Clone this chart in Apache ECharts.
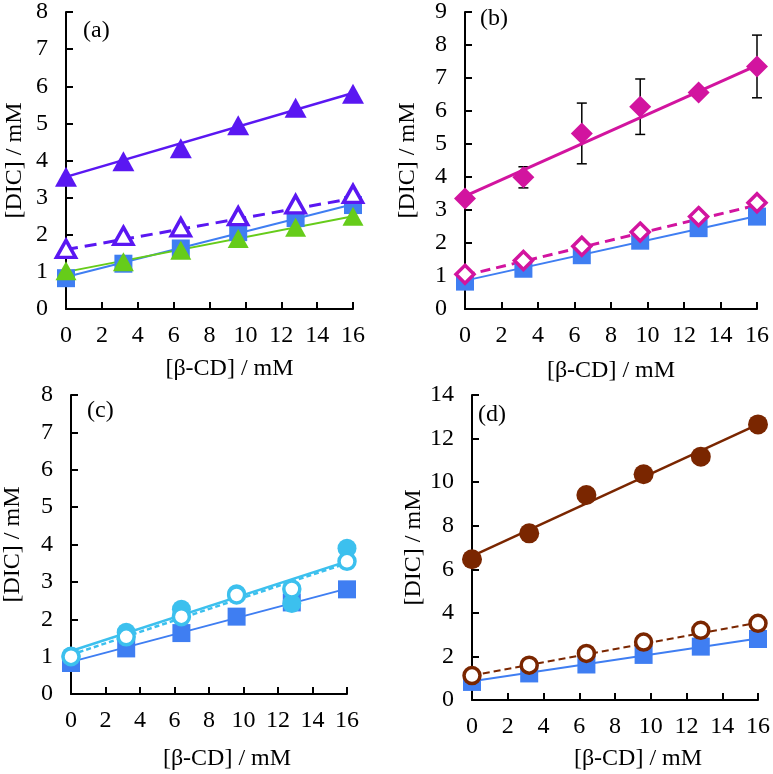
<!DOCTYPE html>
<html>
<head>
<meta charset="utf-8">
<script src="https://cdn.jsdelivr.net/npm/echarts@6/dist/echarts.min.js"></script>
<style>html,body{margin:0;padding:0;background:#fff}#c{width:773px;height:774px}</style>
</head>
<body>
<div id="c"></div>
<script>
// ---- data ----
const xVals = [0, 3.2, 6.4, 9.6, 12.8, 16];
const xEnds = [0, 16];
const xTicks = [0, 2, 4, 6, 8, 10, 12, 14, 16];

// reference (blue squares) shared by all panels
const refSquares = [0.83, 1.22, 1.63, 2.07, 2.45, 2.8];
const refFit = [0.86, 2.82];

// panel (a)
const aFilledTri = [3.56, 3.98, 4.33, 4.95, 5.42, 5.8];
const aFilledFit = [3.56, 5.82];
const aOpenTri = [1.62, 1.97, 2.2, 2.5, 2.82, 3.1];
const aOpenFit = [1.6, 2.98];
const aGreenTri = [1.03, 1.27, 1.58, 1.9, 2.2, 2.5];
const aGreenFit = [1.0, 2.5];

// panel (b)
const bFilledDia = [3.35, 3.99, 5.32, 6.13, 6.56, 7.35];
const bErr = [0, 0.32, 0.92, 0.84, 0, 0.95];
const bFilledFit = [3.42, 7.38];
const bOpenDia = [1.05, 1.47, 1.9, 2.33, 2.8, 3.22];
const bOpenFit = [1.02, 3.15];

// panel (c)
const cFilledCirc = [1.02, 1.65, 2.27, 2.68, 2.42, 3.9];
const cFilledFit = [1.15, 3.55];
const cOpenCirc = [1.0, 1.53, 2.07, 2.65, 2.81, 3.55];
const cOpenFit = [1.05, 3.5];

// panel (d)
const dFilledCirc = [6.46, 7.65, 9.41, 10.36, 11.17, 12.65];
const dFilledFit = [6.6, 12.65];
const dOpenCirc = [1.12, 1.6, 2.14, 2.66, 3.2, 3.52];
const dOpenFit = [1.12, 3.55];

const yMax = [8, 9, 8, 14];
const yInterval = [1, 1, 1, 2];
const panelLabels = ['(a)', '(b)', '(c)', '(d)'];
const xTitle = '[β-CD] / mM';
const yTitle = '[DIC] / mM';

// ---- styling ----
const FONT = 'Liberation Serif';
const FS = 24;
const C = {
  purple: '#5A17F2', green: '#66CC1A', blue: '#3F7EF2',
  magenta: '#D2149F', lightblue: '#3CC0EE', brown: '#7A2600'
};

const grids = [
  {left: 66, top: 11, width: 287, height: 298},
  {left: 465, top: 8, width: 292, height: 301},
  {left: 71, top: 395, width: 276, height: 299},
  {left: 472, top: 395, width: 290, height: 305}
];
const xNameGap = [48, 50, 53, 47];
const xNameShift = [40, 0, 36, 46];
const yNameGap = [39, 45, 46, 46];

function pts(xs, ys) { return xs.map((x, i) => [x, ys[i]]); }

const xAxis = grids.map((g, i) => ({
  gridIndex: i, type: 'value', min: 0, max: 16, interval: 2,
  axisLine: {show: true, lineStyle: {color: '#000', width: 2}},
  axisTick: {show: true, inside: true, length: 7, lineStyle: {color: '#000', width: 2}},
  splitLine: {show: false},
  axisLabel: {fontFamily: FONT, fontSize: FS, color: '#000', margin: 15},
  name: xTitle, nameLocation: 'middle', nameGap: xNameGap[i],
  nameTextStyle: {fontFamily: FONT, fontSize: FS, color: '#000', padding: [0, 0, 0, xNameShift[i]]}
}));
const yAxis = grids.map((g, i) => ({
  gridIndex: i, type: 'value', min: 0, max: yMax[i], interval: yInterval[i],
  axisLine: {show: true, lineStyle: {color: '#000', width: 2}},
  axisTick: {show: true, inside: true, length: 7, lineStyle: {color: '#000', width: 2}},
  splitLine: {show: false},
  axisLabel: {fontFamily: FONT, fontSize: FS, color: '#000', margin: 18},
  name: yTitle, nameLocation: 'middle', nameGap: yNameGap[i], nameRotate: 90,
  nameTextStyle: {fontFamily: FONT, fontSize: FS, color: '#000'}
}));

function fit(idx, vals, color, width, dashed) {
  return {
    type: 'line', xAxisIndex: idx, yAxisIndex: idx, data: pts(xEnds, vals),
    symbol: 'none', silent: true, z: 2,
    lineStyle: {color: color, width: width, type: dashed || 'solid'}
  };
}
function scat(idx, vals, symbol, size, color, open, z) {
  return {
    type: 'scatter', xAxisIndex: idx, yAxisIndex: idx, data: pts(xVals, vals),
    symbol: symbol, symbolSize: size, z: z || 3,
    itemStyle: open ? {color: '#fff', borderColor: color, borderWidth: 3.5, opacity: 1}
                    : {color: color, opacity: 1}
  };
}

const errData = xVals.map((x, i) => [x, bFilledDia[i], bErr[i]]);

const series = [
  // (a)
  fit(0, refFit, C.blue, 2),
  fit(0, aGreenFit, C.green, 2),
  fit(0, aOpenFit, C.purple, 3, [12, 7]),
  fit(0, aFilledFit, C.purple, 2.5),
  scat(0, refSquares, 'rect', 18, C.blue, false, 3),
  scat(0, aGreenTri, 'triangle', [21, 19], C.green, false, 4),
  scat(0, aOpenTri, 'triangle', [19, 17], C.purple, true, 5),
  scat(0, aFilledTri, 'triangle', [22, 20], C.purple, false, 5),
  // (b)
  fit(1, refFit, C.blue, 2),
  fit(1, bOpenFit, C.magenta, 3, [10, 6]),
  fit(1, bFilledFit, C.magenta, 3),
  {
    type: 'custom', xAxisIndex: 1, yAxisIndex: 1, data: errData, z: 2,
    encode: {x: 0, y: 1},
    renderItem: function (params, api) {
      const x = api.value(0), y = api.value(1), e = api.value(2);
      if (!e) return null;
      const top = api.coord([x, y + e]);
      const bot = api.coord([x, y - e]);
      const st = {stroke: '#000', lineWidth: 1.5};
      return {type: 'group', children: [
        {type: 'line', shape: {x1: top[0], y1: top[1], x2: bot[0], y2: bot[1]}, style: st},
        {type: 'line', shape: {x1: top[0] - 5, y1: top[1], x2: top[0] + 5, y2: top[1]}, style: st},
        {type: 'line', shape: {x1: bot[0] - 5, y1: bot[1], x2: bot[0] + 5, y2: bot[1]}, style: st}
      ]};
    }
  },
  scat(1, refSquares, 'rect', 18, C.blue, false, 3),
  scat(1, bOpenDia, 'diamond', [18, 18], C.magenta, true, 4),
  scat(1, bFilledDia, 'diamond', [22, 22], C.magenta, false, 5),
  // (c)
  fit(2, refFit, C.blue, 2),
  fit(2, cOpenFit, C.lightblue, 2.5, [5, 3]),
  fit(2, cFilledFit, C.lightblue, 2.5),
  scat(2, refSquares, 'rect', 18, C.blue, false, 3),
  scat(2, cFilledCirc, 'circle', 19, C.lightblue, false, 4),
  scat(2, cOpenCirc, 'circle', 16, C.lightblue, true, 5),
  // (d)
  fit(3, refFit, C.blue, 2),
  fit(3, dOpenFit, C.brown, 2, [7, 4]),
  fit(3, dFilledFit, C.brown, 2.5),
  scat(3, refSquares, 'rect', 18, C.blue, false, 3),
  scat(3, dOpenCirc, 'circle', 16, C.brown, true, 4),
  scat(3, dFilledCirc, 'circle', 20, C.brown, false, 5)
];

const labelPos = [[83, 19], [480, 7], [87, 399], [478, 403]];
const title = panelLabels.map((t, i) => ({
  text: t, left: labelPos[i][0], top: labelPos[i][1], padding: 0,
  textStyle: {fontFamily: FONT, fontSize: FS, fontWeight: 'normal', color: '#000'}
}));

const chart = echarts.init(document.getElementById('c'), null, {renderer: 'canvas'});
chart.setOption({
  animation: false,
  backgroundColor: '#fff',
  title: title,
  grid: grids.map(g => Object.assign({containLabel: false}, g)),
  xAxis: xAxis,
  yAxis: yAxis,
  series: series
});
</script>
</body>
</html>
